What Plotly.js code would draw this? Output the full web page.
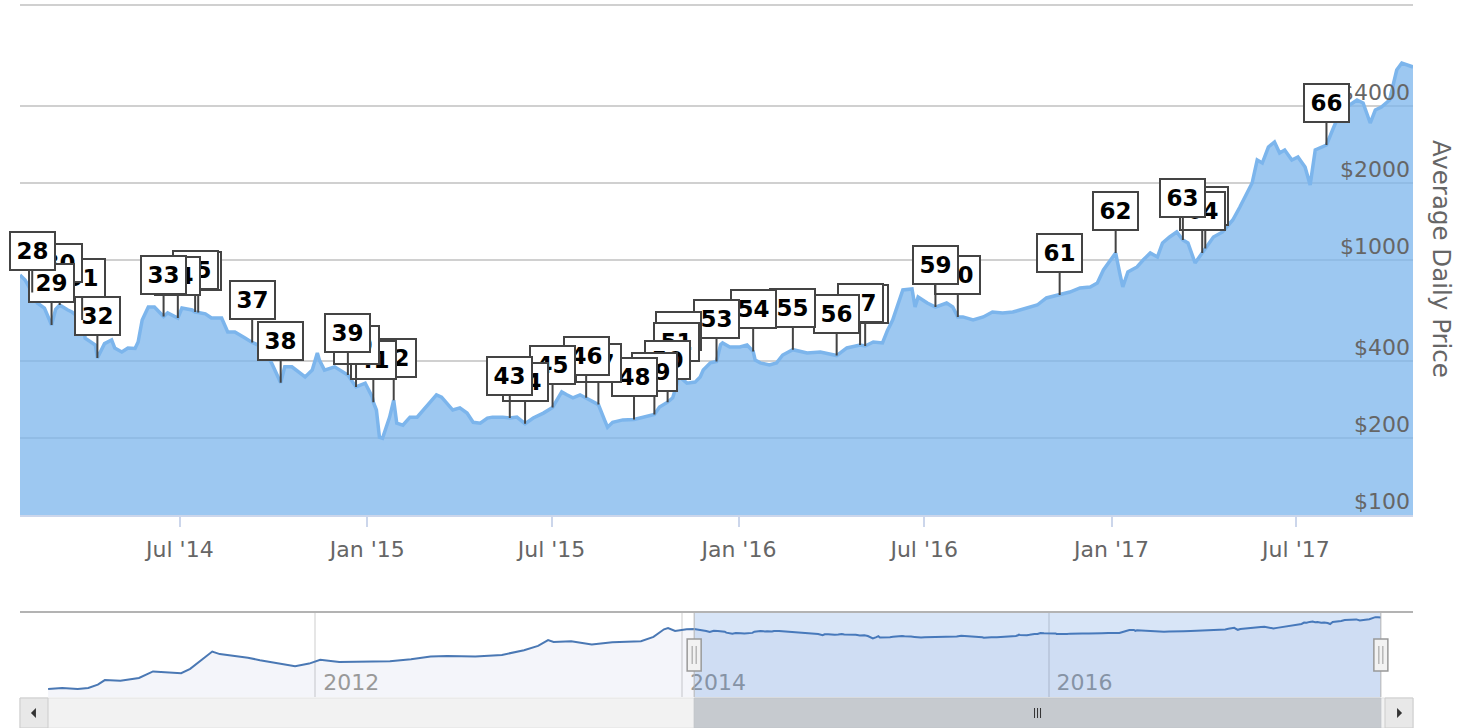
<!DOCTYPE html>
<html><head><meta charset="utf-8">
<script src="https://cdn.plot.ly/plotly-3.0.1.min.js"></script>
<style>html,body{margin:0;padding:0;background:#fff}#chart{width:1460px;height:728px}</style>
</head><body><div id="chart"></div>
<script>
// ---- data ----
const earlyDates = ['2010-07-18','2010-08-15','2010-09-15','2010-10-06','2010-10-25','2010-11-08','2010-12-09','2011-01-15','2011-02-12','2011-03-10','2011-04-09','2011-04-27','2011-05-20','2011-06-10','2011-06-25','2011-07-20','2011-08-20','2011-09-13','2011-10-21','2011-11-22','2011-12-20','2012-01-11','2012-02-18','2012-04-01','2012-05-29','2012-07-10','2012-08-18','2012-09-20','2012-11-15','2013-01-07','2013-02-20','2013-03-20','2013-04-09','2013-04-20','2013-05-25','2013-07-05','2013-08-15','2013-10-11','2013-11-05','2013-11-26','2013-12-04','2013-12-18','2014-01-10'];
const earlyPrices = [0.06,0.07,0.06,0.07,0.12,0.25,0.22,0.35,1.0,0.9,0.75,1.5,6,24,16,13,9,6,3.5,2.3,3.5,6.5,4.5,4.8,5.1,7,11,12,11,14,30,60,150,110,125,75,105,125,250,850,1050,650,850];

const dates = ['2014-01-25','2014-01-30','2014-02-06','2014-02-11','2014-02-18','2014-02-25','2014-03-01','2014-03-05','2014-03-13','2014-03-17','2014-03-27','2014-03-30','2014-04-09','2014-04-11','2014-04-18','2014-04-25','2014-04-28','2014-05-05','2014-05-11','2014-05-18','2014-05-21','2014-05-25','2014-05-31','2014-06-06','2014-06-15','2014-06-19','2014-06-29','2014-07-03','2014-07-13','2014-07-16','2014-07-19','2014-07-26','2014-08-01','2014-08-11','2014-08-17','2014-08-24','2014-09-03','2014-09-10','2014-09-20','2014-09-29','2014-10-08','2014-10-12','2014-10-19','2014-10-25','2014-11-01','2014-11-08','2014-11-13','2014-11-15','2014-11-20','2014-11-30','2014-12-10','2014-12-13','2014-12-21','2014-12-30','2015-01-06','2015-01-07','2015-01-10','2015-01-13','2015-01-16','2015-01-23','2015-01-27','2015-01-30','2015-02-05','2015-02-12','2015-02-19','2015-02-25','2015-03-04','2015-03-10','2015-03-15','2015-03-20','2015-03-26','2015-04-02','2015-04-09','2015-04-15','2015-04-22','2015-04-29','2015-05-04','2015-05-14','2015-05-21','2015-05-28','2015-06-05','2015-06-13','2015-06-23','2015-07-02','2015-07-11','2015-07-16','2015-07-22','2015-07-29','2015-08-04','2015-08-11','2015-08-16','2015-08-22','2015-08-25','2015-08-30','2015-09-09','2015-09-20','2015-09-29','2015-10-10','2015-10-15','2015-10-23','2015-10-28','2015-11-01','2015-11-03','2015-11-05','2015-11-11','2015-11-19','2015-11-24','2015-11-27','2015-12-04','2015-12-10','2015-12-14','2015-12-16','2015-12-23','2016-01-02','2016-01-09','2016-01-15','2016-01-17','2016-01-22','2016-01-31','2016-02-07','2016-02-13','2016-02-23','2016-03-08','2016-03-21','2016-04-06','2016-04-16','2016-04-29','2016-05-04','2016-05-12','2016-05-21','2016-05-26','2016-05-31','2016-06-10','2016-06-19','2016-06-22','2016-06-25','2016-07-04','2016-07-12','2016-07-23','2016-07-29','2016-08-03','2016-08-08','2016-08-18','2016-08-28','2016-09-06','2016-09-16','2016-09-26','2016-10-10','2016-10-20','2016-10-29','2016-11-11','2016-11-21','2016-12-01','2016-12-11','2016-12-18','2016-12-24','2016-12-31','2017-01-05','2017-01-09','2017-01-12','2017-01-17','2017-01-26','2017-02-01','2017-02-08','2017-02-15','2017-02-20','2017-02-27','2017-03-06','2017-03-12','2017-03-17','2017-03-24','2017-03-31','2017-04-03','2017-04-11','2017-04-20','2017-04-30','2017-05-07','2017-05-14','2017-05-19','2017-05-24','2017-05-29','2017-06-04','2017-06-10','2017-06-15','2017-06-20','2017-06-27','2017-07-03','2017-07-10','2017-07-15','2017-07-20','2017-07-27','2017-07-31','2017-08-06','2017-08-13','2017-08-20','2017-08-30','2017-09-05','2017-09-12','2017-09-17','2017-09-23','2017-10-01','2017-10-08','2017-10-13','2017-10-18','2017-10-24'];
const prices = [873,835,745,678,648,556,640,666,637,625,582,494,464,413,470,486,452,436,452,450,477,582,654,654,600,620,592,648,637,625,622,615,592,592,522,522,494,475,456,395,330,381,381,364,348,370,432,405,370,381,361,354,318,329,290,277,258,202,200,242,282,229,225,242,242,258,277,296,290,275,258,263,251,231,229,240,242,242,240,242,228,240,251,264,304,296,288,296,288,277,271,236,221,231,236,237,242,248,265,277,288,325,362,345,329,332,348,370,395,400,465,473,456,456,464,438,405,395,388,395,424,445,432,436,422,452,464,460,477,473,531,582,763,770,654,716,678,654,678,654,598,598,582,598,625,620,625,648,666,710,729,749,777,784,812,914,1000,1065,889,784,897,939,1000,1065,1027,1166,1231,1288,1198,1166,973,1065,1110,1231,1288,1435,1614,1831,2004,2467,2401,2774,2902,2628,2700,2467,2534,2316,1968,2700,2774,2825,3234,3771,3981,4241,4128,3445,3875,3981,4241,5561,5923,5818,5714];

const flagDates = ['2014-02-06','2014-02-25','2014-03-05','2014-03-27','2014-04-11','2014-06-15','2014-06-29','2014-07-16','2014-07-19','2014-09-10','2014-10-08','2014-12-13','2014-12-21','2015-01-07','2015-01-27','2015-05-21','2015-06-05','2015-07-02','2015-08-04','2015-08-16','2015-09-20','2015-10-10','2015-10-23','2015-11-01','2015-11-03','2015-12-10','2016-01-15','2016-02-23','2016-04-06','2016-04-29','2016-05-04','2016-07-12','2016-08-03','2016-11-11','2017-01-05','2017-03-12','2017-03-31','2017-04-03','2017-07-31'];
const flagLabels = ['28','29','30','31','32','33','34','35','36','37','38','39','40','41','42','43','44','45','46','47','48','49','50','51','52','53','54','55','56','57','58','59','60','61','62','63','64','65','66'];

const axisTickDates = ['2014-07-01','2015-01-01','2015-07-01','2016-01-01','2016-07-01','2017-01-01','2017-07-01'];
const axisTickLabels = ["Jul '14","Jan '15","Jul '15","Jan '16","Jul '16","Jan '17","Jul '17"];
const priceTicks = [100,200,400,1000,2000,4000,10000];
const priceTickLabels = ['$100','$200','$400','$1000','$2000','$4000',''];
const navTickDates = ['2012-01-01','2014-01-01','2016-01-01'];
const navTickLabels = ['2012','2014','2016'];
const viewRange = ['2014-01-25','2017-10-24'];
const navRange = ['2010-05-23','2017-12-27'];
const yTitle = 'Average Daily Price';

// ---- helpers ----
function valueAt(d){
  const t = Date.parse(d);
  for (let i = 0; i < dates.length - 1; i++){
    const a = Date.parse(dates[i]), b = Date.parse(dates[i+1]);
    if (t >= a && t <= b){
      const f = (t - a) / (b - a);
      return Math.pow(10, Math.log10(prices[i]) * (1 - f) + Math.log10(prices[i+1]) * f);
    }
  }
  return prices[prices.length - 1];
}

const FONT = 'DejaVu Sans, Verdana, sans-serif';
const navTop = 0.1228;

const traces = [
  { x: dates, y: prices, type: 'scatter', mode: 'lines', xaxis: 'x', yaxis: 'y',
    line: { color: '#7cb5ec', width: 3.5 }, fill: 'tozeroy', fillcolor: 'rgba(124,181,236,0.75)',
    hoverinfo: 'skip' },
  { x: earlyDates.concat(dates), y: earlyPrices.concat(prices), type: 'scatter', mode: 'lines',
    xaxis: 'x2', yaxis: 'y2', line: { color: '#4a78b4', width: 2 }, fill: 'tozeroy',
    fillcolor: 'rgba(69,90,170,0.06)', hoverinfo: 'skip' }
];

// flags: drawn from last to first so lower numbers are on top
const annotations = [];
for (let i = flagDates.length - 1; i >= 0; i--){
  annotations.push({
    x: flagDates[i], y: Math.log10(valueAt(flagDates[i])), xref: 'x', yref: 'y',
    text: '<b>' + flagLabels[i] + '</b>', showarrow: true, arrowhead: 0, arrowwidth: 2,
    arrowcolor: '#444', ax: 0, ay: -42, standoff: 0,
    bgcolor: '#ffffff', bordercolor: '#444', borderwidth: 2, borderpad: 1,
    width: 41, height: 34, font: { family: FONT, size: 23, color: '#000' }
  });
}
annotations.push({
  text: yTitle, xref: 'paper', yref: 'paper', x: 1.0201, y: 0.633, showarrow: false,
  textangle: 90, xanchor: 'center', yanchor: 'middle',
  font: { family: FONT, size: 24.5, color: '#666' }
});

const midT = new Date((Date.parse(viewRange[0]) + Date.parse(viewRange[1])) / 2).toISOString().slice(0,10);
const sbTop = -0.00145, sbBot = -0.0448, sbMid = (sbTop + sbBot) / 2;
const handleY = 0.0607;

const shapes = [
  // top gridline of the price axis
  { type: 'line', xref: 'paper', yref: 'y domain', x0: 0, x1: 1, y0: 1, y1: 1, line: { color: '#d0d0d0', width: 2 } },
  // navigator mask & outline
  { type: 'rect', xref: 'x2', yref: 'paper', x0: viewRange[0], x1: viewRange[1], y0: 0, y1: navTop,
    fillcolor: 'rgba(60,125,215,0.2)', line: { width: 0 } },
  { type: 'line', xref: 'paper', yref: 'paper', x0: 0, x1: 1, y0: navTop, y1: navTop, line: { color: '#b3b3b3', width: 2 } },
  { type: 'line', xref: 'x2', yref: 'paper', x0: viewRange[0], x1: viewRange[0], y0: 0, y1: navTop, line: { color: '#b3b3b3', width: 1 } },
  { type: 'line', xref: 'x2', yref: 'paper', x0: viewRange[1], x1: viewRange[1], y0: 0, y1: navTop, line: { color: '#b3b3b3', width: 1 } },
  // scrollbar track & buttons
  { type: 'rect', xref: 'paper', yref: 'paper', x0: 0, x1: 1, y0: sbBot, y1: sbTop, fillcolor: '#f2f2f2', line: { color: '#e2e2e2', width: 1 } },
  { type: 'rect', xref: 'x2', yref: 'paper', x0: viewRange[0], x1: viewRange[1], y0: sbBot, y1: sbTop, fillcolor: '#c6cacf', line: { color: '#c0c4c9', width: 1 } },
  { type: 'rect', xref: 'paper', yref: 'paper', x0: 0, x1: 0.0201, y0: sbBot, y1: sbTop, fillcolor: '#e8e8e8', line: { color: '#cccccc', width: 1 } },
  { type: 'rect', xref: 'paper', yref: 'paper', x0: 0.9799, x1: 1, y0: sbBot, y1: sbTop, fillcolor: '#e8e8e8', line: { color: '#cccccc', width: 1 } },
  { type: 'path', xref: 'paper', yref: 'paper', xsizemode: 'pixel', ysizemode: 'pixel', xanchor: 0.01, yanchor: sbMid,
    path: 'M 2,5 L -3,0 L 2,-5 Z', fillcolor: '#333', line: { width: 0 } },
  { type: 'path', xref: 'paper', yref: 'paper', xsizemode: 'pixel', ysizemode: 'pixel', xanchor: 0.99, yanchor: sbMid,
    path: 'M -2,5 L 3,0 L -2,-5 Z', fillcolor: '#333', line: { width: 0 } }
];
// scrollbar grip
[-3, 0, 3].forEach(dx => shapes.push({ type: 'line', xref: 'x2', yref: 'paper', xsizemode: 'pixel', ysizemode: 'pixel',
  xanchor: midT, yanchor: sbMid, x0: dx, x1: dx, y0: -5, y1: 5, line: { color: '#333', width: 1 } }));
// navigator handles
viewRange.forEach(d => {
  shapes.push({ type: 'rect', xref: 'x2', yref: 'paper', xsizemode: 'pixel', ysizemode: 'pixel', xanchor: d, yanchor: handleY,
    x0: -7, x1: 7, y0: -16, y1: 16, fillcolor: '#f2f2f2', line: { color: '#999', width: 1.5 } });
  [-2, 2].forEach(dx => shapes.push({ type: 'line', xref: 'x2', yref: 'paper', xsizemode: 'pixel', ysizemode: 'pixel',
    xanchor: d, yanchor: handleY, x0: dx, x1: dx, y0: -9, y1: 9, line: { color: '#999', width: 1 } }));
});

const layout = {
  width: 1460, height: 728, margin: { l: 20, r: 47, t: 5, b: 31 },
  paper_bgcolor: '#fff', plot_bgcolor: 'rgba(0,0,0,0)', showlegend: false, hovermode: false,
  font: { family: FONT, color: '#666' },
  xaxis: { domain: [0, 1], anchor: 'y', type: 'date', range: viewRange, showgrid: false, zeroline: false,
    tickvals: axisTickDates, ticktext: axisTickLabels, ticks: 'outside', ticklen: 10, tickwidth: 2,
    tickcolor: '#ccd6eb', showline: true, linecolor: '#ccd6eb', linewidth: 2,
    tickfont: { family: FONT, size: 22, color: '#666' }, ticklabelstandoff: 4 },
  yaxis: { domain: [0.263, 1], anchor: 'x', type: 'log', range: [2, 4], side: 'right',
    tickvals: priceTicks, ticktext: priceTickLabels, ticklabelposition: 'inside', ticklabelshift: -14,
    ticks: '', showgrid: true, gridcolor: '#d0d0d0', gridwidth: 2, zeroline: false, showline: false,
    tickfont: { family: FONT, size: 22, color: '#666' } },
  xaxis2: { domain: [0, 1], anchor: 'y2', type: 'date', range: navRange, showgrid: true,
    gridcolor: '#e6e6e6', gridwidth: 2, zeroline: false, tickvals: navTickDates, ticktext: navTickLabels,
    ticklabelposition: 'inside', ticklabelshift: 36, ticks: '', showline: false,
    tickfont: { family: FONT, size: 22, color: '#999' } },
  yaxis2: { domain: [0, navTop], anchor: 'x2', type: 'log', range: [-1.78, 4.13], showgrid: false,
    zeroline: false, showticklabels: false, ticks: '' },
  annotations: annotations, shapes: shapes
};

Plotly.newPlot('chart', traces, layout, { displayModeBar: false, staticPlot: true });
</script>
</body></html>
